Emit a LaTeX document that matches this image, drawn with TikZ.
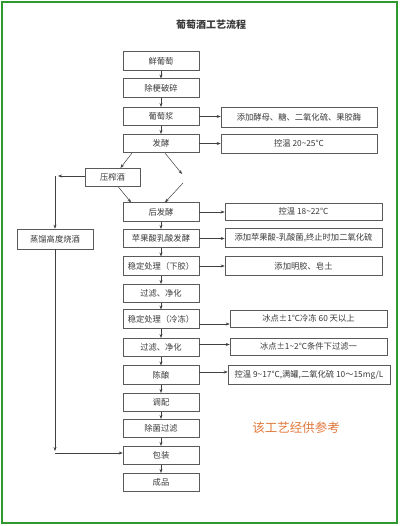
\documentclass[tikz,border=0pt]{standalone}
\usepackage{fontspec}
\setmainfont{Noto Sans CJK SC}
\usetikzlibrary{arrows.meta}
\definecolor{boxgray}{HTML}{5A5A5A}
\definecolor{textgray}{HTML}{3A3A3A}
\definecolor{linegray}{HTML}{404040}
\definecolor{framegreen}{HTML}{2E9A2E}
\definecolor{markorange}{HTML}{E2783C}
\tikzset{
  stepbox/.style={draw=boxgray, line width=0.6pt, minimum width=76pt, minimum height=18.5pt, inner sep=0pt, font=\fontsize{8.3}{10}\selectfont, text=textgray},
  notebox/.style={stepbox, minimum width=156pt},
  arr/.style={-{Stealth[length=4pt,width=3pt]}, draw=linegray, line width=0.5pt}
}
\begin{document}
\begin{tikzpicture}[x=1pt,y=-1pt]
\useasboundingbox (0,0) rectangle (400,526);
\fill[white] (0,0) rectangle (400,526);
\draw[framegreen, line width=2pt] (2,2) rectangle (397,523);
\node[font=\fontsize{10}{12}\selectfont\bfseries, text=textgray] (title) at (211,25) {葡萄酒工艺流程};
% main column
\node[stepbox] (n1) at (161,61) {鲜葡萄};
\node[stepbox] (n2) at (161,88) {除梗破碎};
\node[stepbox] (n3) at (161,116.5) {葡萄浆};
\node[stepbox] (n4) at (161,143.5) {发酵};
\node[stepbox, minimum width=55pt] (zy) at (112.5,177.5) {压榨酒};
\node[stepbox] (n5) at (161,212) {后发酵};
\node[stepbox] (n6) at (161,238.5) {苹果酸乳酸发酵};
\node[stepbox] (n7) at (161,266) {稳定处理（下胶）};
\node[stepbox] (n8) at (161,293.5) {过滤、净化};
\node[stepbox] (n9) at (161,319) {稳定处理（冷冻）};
\node[stepbox] (n10) at (161,347.5) {过滤、净化};
\node[stepbox] (n11) at (161,375) {陈酿};
\node[stepbox] (n12) at (161,402.5) {调配};
\node[stepbox] (n13) at (161,428.5) {除菌过滤};
\node[stepbox] (n14) at (161,455.5) {包装};
\node[stepbox] (n15) at (161,482.5) {成品};
\node[stepbox, minimum height=20pt] (zl) at (55,239) {蒸馏高度烧酒};
% notes
\node[notebox, minimum height=20pt] (r1) at (299,117) {添加酵母、糖、二氧化硫、果胶酶};
\node[notebox, minimum height=19pt] (r2) at (299,143.5) {控温 20\textasciitilde25℃};
\node[notebox, minimum width=157pt, minimum height=17pt] (r3) at (303.5,211.5) {控温 18\textasciitilde22℃};
\node[notebox, minimum width=157pt] (r4) at (303.5,238) {添加苹果酸-乳酸菌,终止时加二氧化硫};
\node[notebox, minimum width=157pt] (r5) at (303.5,266) {添加明胶、皂土};
\node[notebox, minimum width=157pt, minimum height=17pt] (r6) at (308.5,318.5) {冰点±1℃冷冻 60 天以上};
\node[notebox, minimum width=157pt, minimum height=17pt] (r7) at (308.5,346.5) {冰点±1\textasciitilde2℃条件下过滤一};
\node[notebox, minimum width=162pt] (r8) at (309,375) {控温 9\textasciitilde17℃,满罐,二氧化硫 10～15mg/L};
\node[font=\fontsize{12.5}{14}\selectfont, text=markorange] (mark) at (296,428) {该工艺经供参考};
% vertical arrows
\foreach \a/\b in {n1/n2,n2/n3,n3/n4,n5/n6,n6/n7,n7/n8,n8/n9,n9/n10,n10/n11,n11/n12,n12/n13,n13/n14,n14/n15}
  \draw[arr] (\a.south) -- (\b.north);
% side arrows
\draw[arr] (n3.east) -- (n3.east -| r1.west);
\draw[arr] (n4.east) -- (n4.east -| r2.west);
\draw[arr] (n5.east) -- (n5.east -| r3.west);
\draw[arr] (n6.east) -- (n6.east -| r4.west);
\draw[arr] (n7.east) -- (n7.east -| r5.west);
\coordinate (a9) at ([yshift=-5pt]n9.east);
\draw[arr] (a9) -- (a9 -| r6.west);
\coordinate (a10) at ([yshift=3pt]n10.east);
\draw[arr] (a10) -- (a10 -| r7.west);
\coordinate (a11) at ([yshift=3pt]n11.east);
\draw[arr] (a11) -- (a11 -| r8.west);
% branching
\draw[arr] ([xshift=-29pt]n4.south) -- ([xshift=8pt]zy.north);
\coordinate (m1) at (182,174);
\coordinate (m2) at (183,183);
\draw[arr] ([xshift=4pt]n4.south) -- (m1);
\draw[arr] (m2) -- ([xshift=4pt]n5.north);
\draw[arr] ([xshift=6pt]zy.south) -- ([xshift=-30pt]n5.north);
\coordinate (L1) at (58,176);
\coordinate (L2) at (55,176);
\draw[arr] (zy.west |- L1) -- (L1);
\draw[arr] (L2) -- (zl.north);
\coordinate (L3) at (55,451);
\coordinate (L4) at (55,453);
\draw[arr] (zl.south) -- (L3);
\draw[arr] (L4) -- (L4 -| n14.west);
\end{tikzpicture}
\end{document}
